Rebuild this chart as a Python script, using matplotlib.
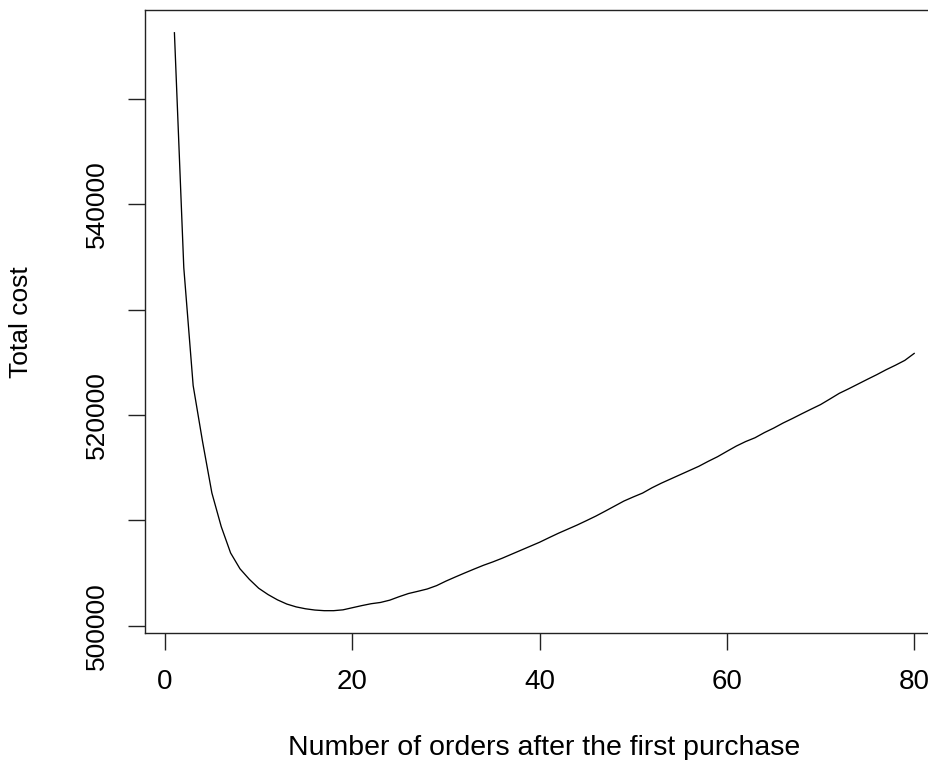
import numpy as np
import matplotlib
matplotlib.use('Agg')
import matplotlib.pyplot as plt

plt.rcParams['font.family'] = ['Liberation Sans', 'DejaVu Sans']

# number of orders after the first purchase
orders = np.arange(1, 81)
# total cost, one value per order count
total_cost = [
    556300, 534000, 522800, 517500, 512600, 509400, 506900, 505400, 504400, 503550,
    502950, 502450, 502050, 501780, 501600, 501480, 501420, 501420, 501500, 501700,
    501900, 502080, 502200, 502420, 502750, 503050, 503260, 503480, 503800, 504230,
    504620, 505000, 505370, 505730, 506050, 506400, 506780, 507160, 507540, 507920,
    508350, 508770, 509160, 509550, 509970, 510400, 510870, 511350, 511830, 512220,
    512590, 513090, 513530, 513930, 514330, 514730, 515130, 515600, 516040, 516550,
    517050, 517480, 517840, 518330, 518760, 519240, 519670, 520120, 520560, 520990,
    521520, 522060, 522490, 522940, 523390, 523830, 524300, 524730, 525190, 525850,
]

x_ticks = [0, 20, 40, 60, 80]
y_ticks = [500000, 510000, 520000, 530000, 540000, 550000]
y_tick_labels = ['500000', '', '520000', '', '540000', '']

fig = plt.figure(figsize=(9.29, 7.6), dpi=100)
# the right edge of the box lies outside the picture, as in the original
ax = fig.add_axes([0.1559, 0.1671, 0.8600, 0.8193])
ax.plot(orders, total_cost, color='black', linewidth=0.95)

# R style 4% padding around the data range
ax.set_xlim(-2.16, 83.16)
ax.set_ylim(499300, 558430)

ax.set_xticks(x_ticks)
ax.set_xticklabels([str(t) for t in x_ticks])
ax.set_yticks(y_ticks)
ax.set_yticklabels(y_tick_labels, rotation=90, va='center')

for s in ax.spines.values():
    s.set_linewidth(1.0)
    s.set_color('#222222')

ax.tick_params(axis='x', length=12, width=1.0, pad=14, labelsize=20, color='#222222')
ax.tick_params(axis='y', length=12, width=1.0, pad=14, labelsize=19, color='#222222')

ax.set_xlabel('Number of orders after the first purchase', fontsize=20.5, labelpad=29)
ax.set_ylabel('Total cost', fontsize=19)
ax.yaxis.set_label_coords(-0.14, 0.5, transform=ax.transAxes)

fig.savefig('out.png', dpi=100)
